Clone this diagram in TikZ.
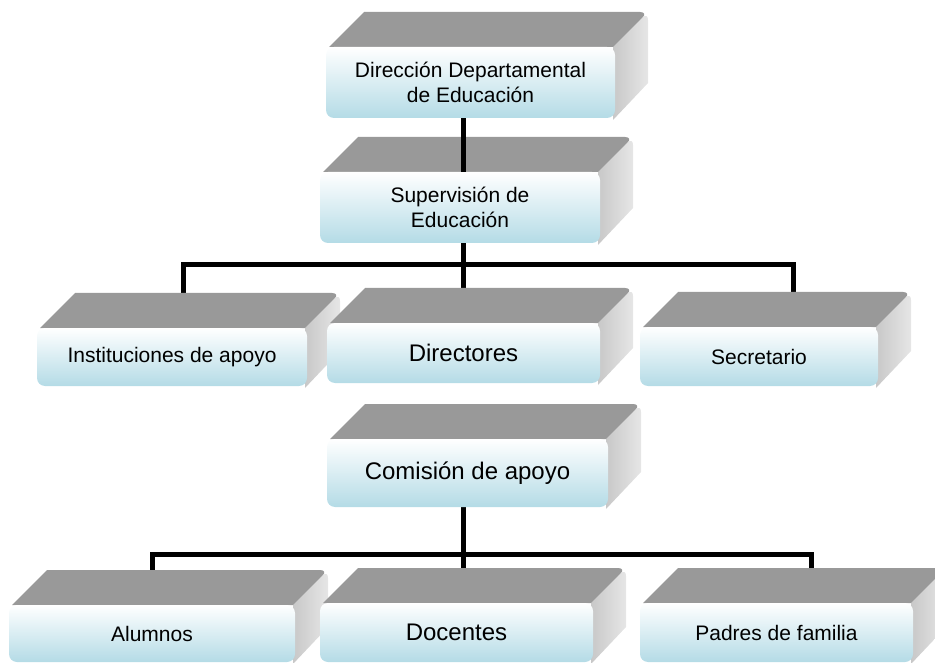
\documentclass[tikz,border=0pt]{standalone}
\usepackage{fontspec}
\setmainfont{Liberation Sans}
\usetikzlibrary{backgrounds}
\definecolor{topgray}{HTML}{999999}
\definecolor{sidedark}{HTML}{C8C8C8}
\definecolor{sidelight}{HTML}{E6E6E6}
\definecolor{frontblue}{HTML}{B4DBE6}
\tikzset{
  frontface/.style={rounded corners=8pt, top color=white, bottom color=frontblue,
    inner sep=0pt, align=center, text=black},
  topface/.style={fill=topgray},
  sideface/.style={left color=sidedark, right color=sidelight},
  conn/.style={line width=5pt, black},
  smalltxt/.style={font=\fontsize{21}{25}\selectfont},
  bigtxt/.style={font=\fontsize{24}{28}\selectfont},
}
% #1 name, #2 x1, #3 y1, #4 x2, #5 y2, #6 text style, #7 text
\newcommand\cubebox[7]{%
  \pgfmathsetmacro\cbcx{(#2+#4)/2}%
  \pgfmathsetmacro\cbcy{(#3+#5)/2}%
  \pgfmathsetmacro\cbw{#4-#2}%
  \pgfmathsetmacro\cbh{#5-#3}%
  \path[topface] ({#2+3},{#3}) -- ({#2+38},{#3-35}) [rounded corners=8pt] -- ({#4+33},{#3-35}) [sharp corners] -- ({#4},{#3}) -- cycle;
  \path[sideface] ({#4-2},{#3}) [rounded corners=8pt] -- ({#4+33},{#3-35}) [sharp corners] -- ({#4+33},{#5-35}) -- ({#4-2},{#5+2}) -- cycle;
  \node[frontface, #6, minimum width=\cbw pt, minimum height=\cbh pt] (#1) at (\cbcx,\cbcy) {#7};
}
\begin{document}
\begin{tikzpicture}[x=1pt,y=-1pt]
\useasboundingbox (0,0) rectangle (935,663);
\coordinate (mid) at (463,0);
\coordinate (b1l) at (183,265);
\coordinate (b1r) at (793,265);
\coordinate (b2l) at (152,554);
\coordinate (b2r) at (811,554);

\cubebox{dir}{326}{47}{615}{118}{smalltxt}{Dirección Departamental\\de Educación}
\cubebox{sup}{320}{172}{600}{243}{smalltxt}{Supervisión de\\Educación}
\cubebox{inst}{37}{328}{307}{386}{smalltxt}{Instituciones de apoyo}
\cubebox{dirs}{327}{323}{600}{383}{bigtxt}{Directores}
\cubebox{sec}{640}{327}{878}{386}{smalltxt}{Secretario}
\cubebox{com}{327}{439}{608}{507}{bigtxt}{Comisión de apoyo}
\cubebox{alu}{9}{605}{295}{662}{smalltxt}{Alumnos}
\cubebox{doc}{320}{603}{593}{662}{bigtxt}{Docentes}
\cubebox{pad}{640}{603}{913}{662}{smalltxt}{Padres de familia}

\begin{scope}[on background layer]
  \draw[conn] (sup.south -| mid) -- (dirs.north -| mid);
  \draw[conn] (inst.north -| b1l) -- (b1l) -- (b1r) -- (sec.north -| b1r);
  \draw[conn] (com.south -| mid) -- (doc.north -| mid);
  \draw[conn] (alu.north -| b2l) -- (b2l) -- (b2r) -- (pad.north -| b2r);
\end{scope}
\draw[conn] (dir.south -| mid) -- (sup.north -| mid);
\end{tikzpicture}
\end{document}
